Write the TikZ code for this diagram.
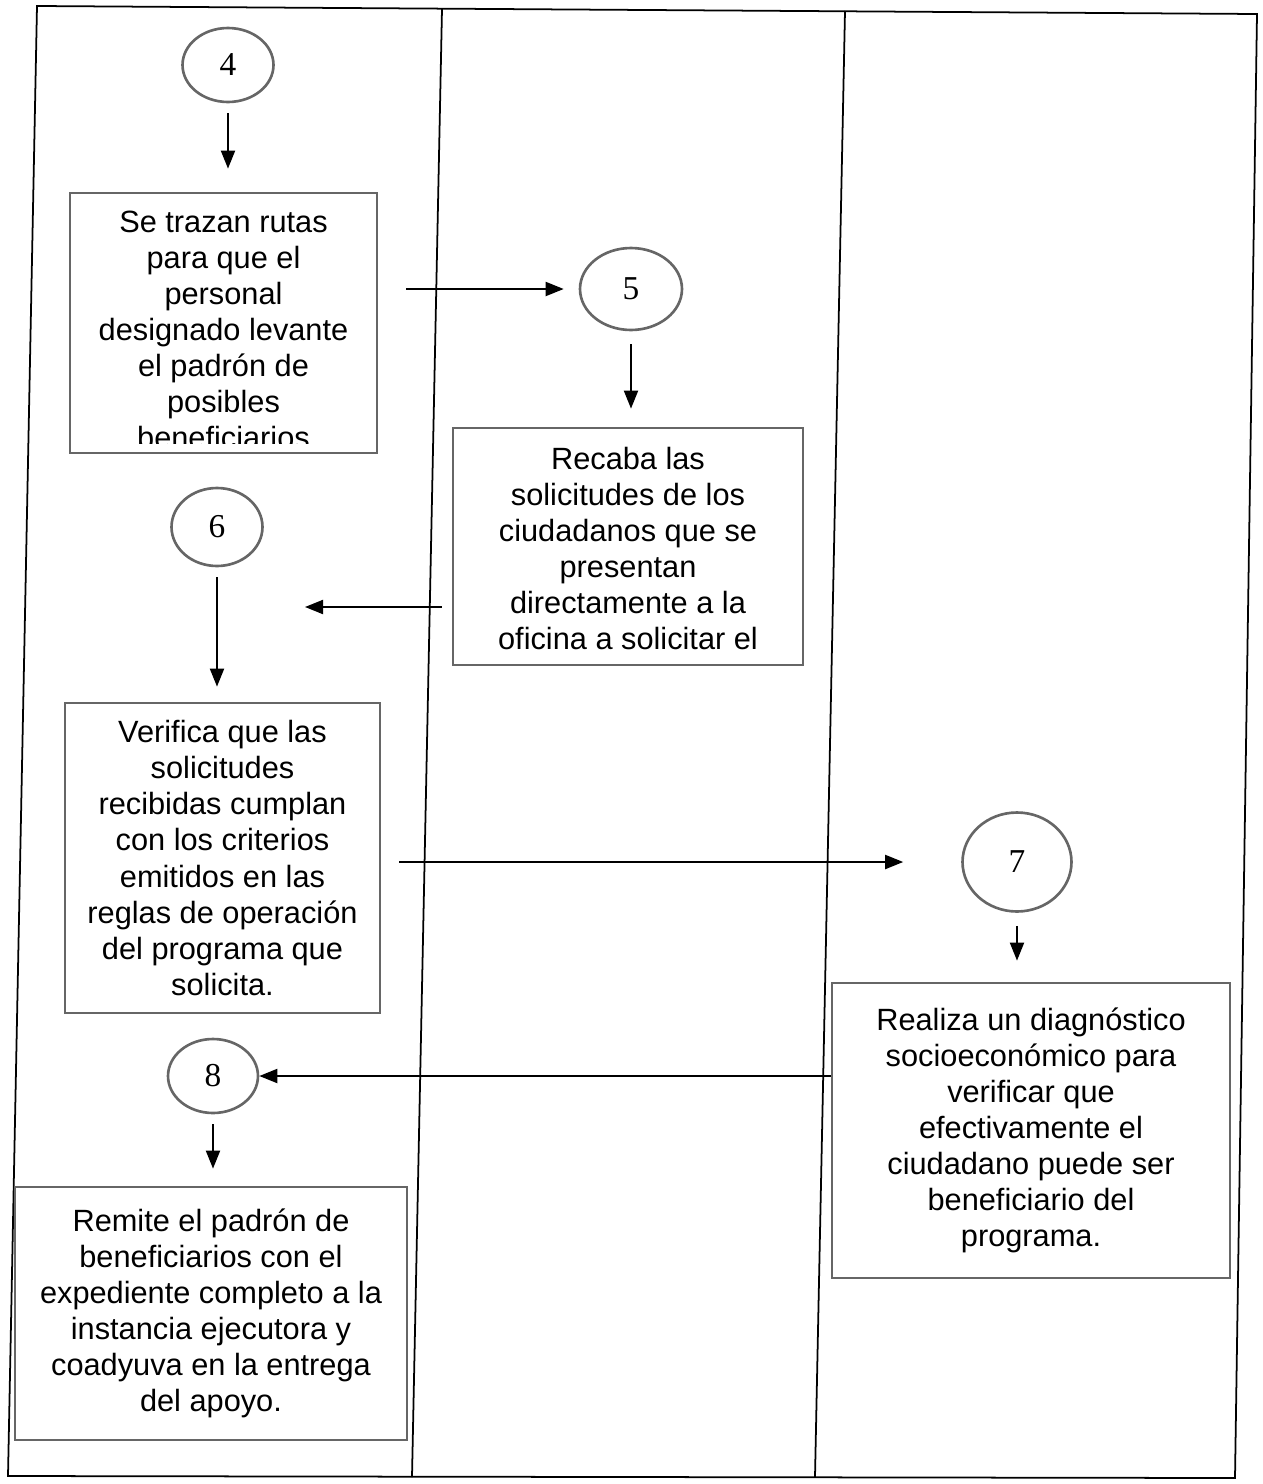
\documentclass[tikz,border=0pt]{standalone}
\usepackage{fontspec}
\setmainfont{Liberation Sans}
\newfontfamily\numfont{Liberation Serif}
\usetikzlibrary{arrows.meta,shapes.geometric}

\begin{document}
\begin{tikzpicture}[x=0.02cm, y=-0.02cm, line width=0.9pt]

  \tikzset{
    lane/.style = {line width=1pt, black},
    act/.style  = {draw=black!60, line width=1.6pt, inner sep=0pt},
    txt/.style  = {font=\fontsize{17.5}{20.5}\selectfont, align=center,
                   inner sep=0pt},
    conn/.style = {ellipse, draw=black!60, line width=1.5pt, inner sep=0pt,
                   font=\numfont\fontsize{19}{22}\selectfont},
    flow/.style = {line width=1.1pt, -{Triangle[length=0.36cm,width=0.28cm]}},
  }

  \useasboundingbox (0,0) rectangle (1262,1484);

  % ---- lanes --------------------------------------------------------------
  \draw[lane] (37,6) -- (1257,14) -- (1235,1478) -- (8,1476) -- cycle;
  \draw[lane] (442,9) -- (412,1477);
  \draw[lane] (845,11) -- (815,1477);

  % ---- connectors and activities -------------------------------------------
  \node[conn, minimum width=1.82cm, minimum height=1.48cm] (c4) at (228,65) {4};
  \node[act, minimum width=6.14cm, minimum height=5.2cm] (trazar) at (223.5,323) {};

  \node[conn, minimum width=2.04cm, minimum height=1.64cm] (c5) at (631,289) {5};
  \node[act, minimum width=7.0cm, minimum height=4.74cm] (recaba) at (628,546.5) {};

  \node[conn, minimum width=1.82cm, minimum height=1.56cm] (c6) at (217,527) {6};
  \node[act, txt, minimum width=6.3cm, minimum height=6.2cm] (verif) at (222.5,858)
    {Verifica que las\\solicitudes\\recibidas cumplan\\con los criterios\\emitidos en las\\reglas de operación\\del programa que\\solicita.};

  \node[conn, minimum width=2.18cm, minimum height=1.98cm] (c7) at (1017,862) {7};
  \node[act, txt, minimum width=7.96cm, minimum height=5.9cm] (diag) at (1031,1130.5)
    {Realiza un diagnóstico\\socioeconómico para\\verificar que\\efectivamente el\\ciudadano puede ser\\beneficiario del\\programa.};

  \node[conn, minimum width=1.8cm, minimum height=1.48cm] (c8) at (213,1076) {8};
  \node[act, txt, minimum width=7.84cm, minimum height=5.06cm] (remite) at (211,1313.5)
    {Remite el padrón de\\beneficiarios con el\\expediente completo a la\\instancia ejecutora y\\coadyuva en la entrega\\del apoyo.};

  % text that runs past the bottom of its box
  \begin{scope}
    \clip ([shift={(0.05cm,0.22cm)}]trazar.south west)
      rectangle ([shift={(-0.05cm,-0.05cm)}]trazar.north east);
    \node[txt, anchor=north] at ([yshift=-0.37cm]trazar.north)
      {Se trazan rutas\\para que el\\personal\\designado levante\\el padrón de\\posibles\\beneficiarios};
  \end{scope}
  \begin{scope}
    \clip ([shift={(0.05cm,0.05cm)}]recaba.south west)
      rectangle ([shift={(-0.05cm,-0.05cm)}]recaba.north east);
    \node[txt, anchor=north] at ([yshift=-0.40cm]recaba.north)
      {Recaba las\\solicitudes de los\\ciudadanos que se\\presentan\\directamente a la\\oficina a solicitar el};
  \end{scope}

  % ---- flow ---------------------------------------------------------------
  \coordinate (back) at (305,607);

  \draw[flow, shorten <=0.2cm, shorten >=0.46cm] (c4.south) -- (c4.south |- trazar.north);
  \draw[flow, shorten <=0.56cm, shorten >=0.3cm] (trazar.east |- c5.west) -- (c5.west);
  \draw[flow, shorten <=0.26cm, shorten >=0.36cm] (c5.south) -- (c5.south |- recaba.north);
  \draw[flow, shorten <=0.2cm] (recaba.west |- back) -- (back);
  \draw[flow, shorten <=0.2cm, shorten >=0.3cm] (c6.south) -- (c6.south |- verif.north);
  \draw[flow, shorten <=0.36cm, shorten >=1.16cm] (verif.east |- c7.west) -- (c7.west);
  \draw[flow, shorten <=0.26cm, shorten >=0.42cm] (c7.south) -- (c7.south |- diag.north);
  \draw[flow] (diag.west |- c8.east) -- (c8.east);
  \draw[flow, shorten <=0.2cm, shorten >=0.34cm] (c8.south) -- (c8.south |- remite.north);

\end{tikzpicture}
\end{document}
